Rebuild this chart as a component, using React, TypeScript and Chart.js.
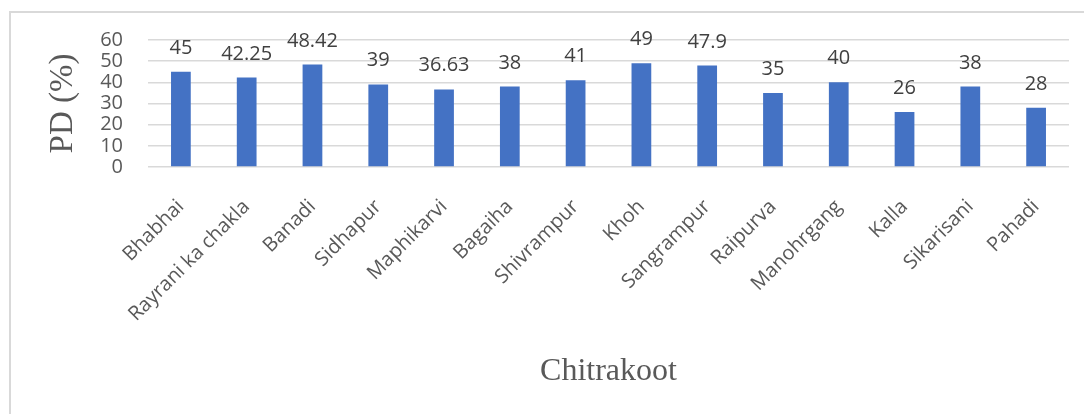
import React, { useEffect, useRef } from "react";
import { Chart, registerables } from "chart.js";

Chart.register(...registerables);

const categories: string[] = [
  "Bhabhai", "Rayrani ka chakla", "Banadi", "Sidhapur", "Maphikarvi", "Bagaiha", "Shivrampur",
  "Khoh", "Sangrampur", "Raipurva", "Manohrgang", "Kalla", "Sikarisani", "Pahadi",
];
const pdValues: number[] = [45, 42.25, 48.42, 39, 36.63, 38, 41, 49, 47.9, 35, 40, 26, 38, 28];
const valueLabels: string[] = ["45", "42.25", "48.42", "39", "36.63", "38", "41", "49", "47.9", "35", "40", "26", "38", "28"];
const yTicks: number[] = [0, 10, 20, 30, 40, 50, 60];
const yTitle = "PD (%)";
const xTitle = "Chitrakoot";

const FONT = "'Open Sans', 'Noto Sans', sans-serif";
const SERIF = "'Liberation Serif', 'DejaVu Serif', serif";

const frame = {
  id: "frame",
  beforeDraw(chart: any) {
    const ctx = chart.ctx;
    ctx.save();
    ctx.fillStyle = "#ffffff";
    ctx.fillRect(0, 0, chart.width, chart.height);
    ctx.strokeStyle = "#d9d9d9";
    ctx.lineWidth = 2;
    ctx.strokeRect(10, 12, chart.width + 20, chart.height + 20);
    ctx.restore();
  },
};

const dataLabels = {
  id: "dataLabels",
  afterDatasetsDraw(chart: any) {
    const ctx = chart.ctx;
    const meta = chart.getDatasetMeta(0);
    ctx.save();
    ctx.font = `20px ${FONT}`;
    ctx.fillStyle = "#404040";
    ctx.textAlign = "center";
    ctx.textBaseline = "alphabetic";
    meta.data.forEach((bar: any, i: number) => {
      ctx.fillText(valueLabels[i], bar.x, bar.y - 18);
    });
    ctx.restore();
  },
};

export default function App() {
  const ref = useRef<HTMLCanvasElement | null>(null);
  useEffect(() => {
    document.body.style.margin = "0";
    const chart = new Chart(ref.current as HTMLCanvasElement, {
      type: "bar",
      data: {
        labels: categories,
        datasets: [
          {
            data: pdValues,
            backgroundColor: "#4472C4",
            borderWidth: 0,
            barPercentage: 0.3,
            categoryPercentage: 1,
          },
        ],
      },
      options: {
        responsive: false,
        animation: false,
        layout: { padding: { left: 44, right: 15, top: 40, bottom: 0 } },
        plugins: { legend: { display: false }, tooltip: { enabled: false } },
        scales: {
          x: {
            grid: { display: false, drawTicks: false },
            border: { display: false },
            ticks: {
              color: "#595959",
              font: { family: FONT, size: 20 },
              minRotation: 45,
              maxRotation: 45,
              padding: 28,
              autoSkip: false,
            },
            title: {
              display: true,
              text: xTitle,
              color: "#595959",
              font: { family: SERIF, size: 32 },
              padding: { top: 0, bottom: 23 },
            },
            afterFit(scale: any) {
              scale.height = 247;
            },
          },
          y: {
            min: 0,
            max: 60,
            afterBuildTicks(scale: any) {
              scale.ticks = yTicks.map((v) => ({ value: v }));
            },
            grid: { color: "#d9d9d9", lineWidth: 1.5, drawTicks: false },
            border: { display: false },
            ticks: {
              color: "#595959",
              font: { family: FONT, size: 20 },
              padding: 25,
              autoSkip: false,
              stepSize: 10,
            },
            title: {
              display: true,
              text: yTitle,
              color: "#595959",
              font: { family: SERIF, size: 33 },
              padding: { top: 0, bottom: 0 },
            },
            afterFit(scale: any) {
              scale.width = 104;
            },
          },
        },
      },
      plugins: [frame, dataLabels],
    });
    return () => chart.destroy();
  }, []);
  return (
    <div style={{ width: 1084, height: 414 }}>
      <canvas ref={ref} width={1084} height={414} style={{ display: "block" }} />
    </div>
  );
}
